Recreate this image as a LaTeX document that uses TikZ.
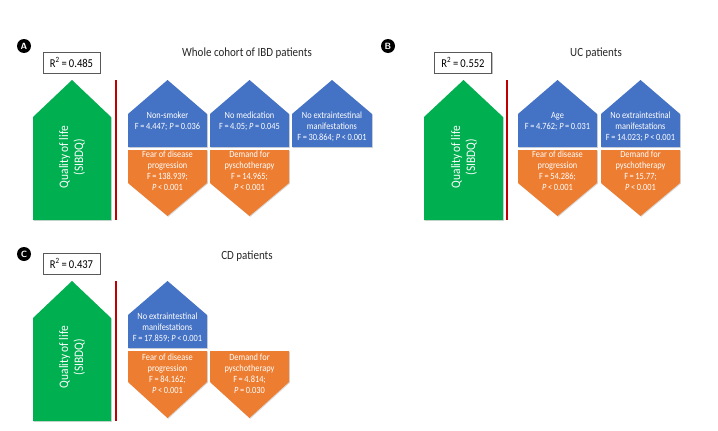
\documentclass[tikz,border=0pt]{standalone}
\usepackage{fontspec}
\setmainfont{Carlito}[FakeStretch=0.88]
\usetikzlibrary{shadows}
\definecolor{qolgreen}{HTML}{00B050}
\definecolor{facblue}{HTML}{4472C4}
\definecolor{facorange}{HTML}{ED7D31}
\definecolor{sepred}{HTML}{C00000}
\begin{document}
\begin{tikzpicture}[x=1pt,y=-1pt,
    badge/.style={circle, fill=black, text=white, inner sep=0pt, minimum size=14pt, font=\sffamily\bfseries\small},
    rsq/.style={draw=black!65, line width=0.8pt, fill=white, minimum width=57pt, minimum height=21pt, inner sep=0pt, font=\fontsize{12}{14}\selectfont, drop shadow={shadow xshift=1.2pt, shadow yshift=-1.2pt, opacity=0.5}},
    paneltitle/.style={font=\fontsize{12.5}{14}\selectfont, text=black!85},
    qol/.style={fill=qolgreen, drop shadow={shadow xshift=0.8pt, shadow yshift=-0.8pt, opacity=0.3}},
    qoltext/.style={rotate=90, text=white, align=center, font=\fontsize{13}{15}\selectfont},
    upblock/.style={fill=facblue, drop shadow={shadow xshift=0.8pt, shadow yshift=-0.8pt, opacity=0.3}},
    downblock/.style={fill=facorange, drop shadow={shadow xshift=0.8pt, shadow yshift=-0.8pt, opacity=0.3}},
    factor/.style={anchor=north, text=white, align=center, inner sep=0pt, font=\fontsize{9.5}{11}\selectfont},
    sepline/.style={draw=sepred, line width=1.8pt}
]
\useasboundingbox (0,0) rectangle (718,431);

% panel A
\node[badge] (badgeA) at (24,46) {A};
\node[rsq] (rsqA) at (71.5,62.5) {R\textsuperscript{2}\,=\,0.485};
\node[paneltitle] (titleA) at (247,53) {Whole cohort of IBD patients};

\fill[qol] (33,220) -- (33,117) -- (72,80) -- (111,117) -- (111,220) -- cycle;
\node[qoltext] (qolA) at (72,157) {Quality of life\\(SIBDQ)};
\draw[sepline] (116,80) -- (116,220);

\fill[upblock] (128,147) -- (128,114) -- (167.5,80) -- (207,114) -- (207,147) -- cycle;
\node[factor] (smokeA) at (167.5,112) {Non-smoker\\F\,=\,4.447; \textit{P}\,=\,0.036};
\fill[upblock] (210,147) -- (210,114) -- (249.5,80) -- (289,114) -- (289,147) -- cycle;
\node[factor] (mediA) at (249.5,112) {No medication\\F\,=\,4.05; \textit{P}\,=\,0.045};
\fill[upblock] (292,147) -- (292,114) -- (332,80) -- (372,114) -- (372,147) -- cycle;
\node[factor] (extraA) at (332,112) {No extraintestinal\\manifestations\\F\,=\,30.864; \textit{P}\,<\,0.001};

\fill[downblock] (128,150) -- (207,150) -- (207,183) -- (167.5,216) -- (128,183) -- cycle;
\node[factor] (fearA) at (167.5,151) {Fear of disease\\progression\\F\,=\,138.939;\\\textit{P}\,<\,0.001};
\fill[downblock] (210,150) -- (289,150) -- (289,183) -- (249.5,216) -- (210,183) -- cycle;
\node[factor] (psyA) at (249.5,151) {Demand for\\pyschotherapy\\F\,=\,14.965;\\\textit{P}\,<\,0.001};

% panel B
\node[badge] (badgeB) at (388,46) {B};
\node[rsq] (rsqB) at (463,62.5) {R\textsuperscript{2}\,=\,0.552};
\node[paneltitle] (titleB) at (596,53) {UC patients};

\fill[qol] (424,220) -- (424,117) -- (463.5,80) -- (503,117) -- (503,220) -- cycle;
\node[qoltext] (qolB) at (464,157) {Quality of life\\(SIBDQ)};
\draw[sepline] (507,80) -- (507,220);

\fill[upblock] (518,147) -- (518,114) -- (557.5,80) -- (597,114) -- (597,147) -- cycle;
\node[factor] (ageB) at (557.5,112) {Age\\F\,=\,4.762; \textit{P}\,=\,0.031};
\fill[upblock] (601,147) -- (601,114) -- (640.5,80) -- (680,114) -- (680,147) -- cycle;
\node[factor] (extraB) at (640.5,112) {No extraintestinal\\manifestations\\F\,=\,14.023; \textit{P}\,<\,0.001};

\fill[downblock] (518,150) -- (597,150) -- (597,183) -- (557.5,216) -- (518,183) -- cycle;
\node[factor] (fearB) at (557.5,151) {Fear of disease\\progression\\F\,=\,54.286;\\\textit{P}\,<\,0.001};
\fill[downblock] (601,150) -- (680,150) -- (680,183) -- (640.5,216) -- (601,183) -- cycle;
\node[factor] (psyB) at (640.5,151) {Demand for\\pyschotherapy\\F\,=\,15.77;\\\textit{P}\,<\,0.001};

% panel C
\node[badge] (badgeC) at (24,254) {C};
\node[rsq] (rsqC) at (71.5,263.5) {R\textsuperscript{2}\,=\,0.437};
\node[paneltitle] (titleC) at (247,256) {CD patients};

\fill[qol] (33,421) -- (33,318) -- (72,281) -- (111,318) -- (111,421) -- cycle;
\node[qoltext] (qolC) at (72,357) {Quality of life\\(SIBDQ)};
\draw[sepline] (116,281) -- (116,421);

\fill[upblock] (128,348) -- (128,315) -- (167.5,281) -- (207,315) -- (207,348) -- cycle;
\node[factor] (extraC) at (167.5,313) {No extraintestinal\\manifestations\\F\,=\,17.859; \textit{P}\,<\,0.001};

\fill[downblock] (128,351) -- (207,351) -- (207,382) -- (167.5,418) -- (128,382) -- cycle;
\node[factor] (fearC) at (167.5,354) {Fear of disease\\progression\\F\,=\,84.162;\\\textit{P}\,<\,0.001};
\fill[downblock] (210,351) -- (289,351) -- (289,382) -- (249.5,418) -- (210,382) -- cycle;
\node[factor] (psyC) at (249.5,354) {Demand for\\pyschotherapy\\F\,=\,4.814;\\\textit{P}\,=\,0.030};

\end{tikzpicture}
\end{document}
